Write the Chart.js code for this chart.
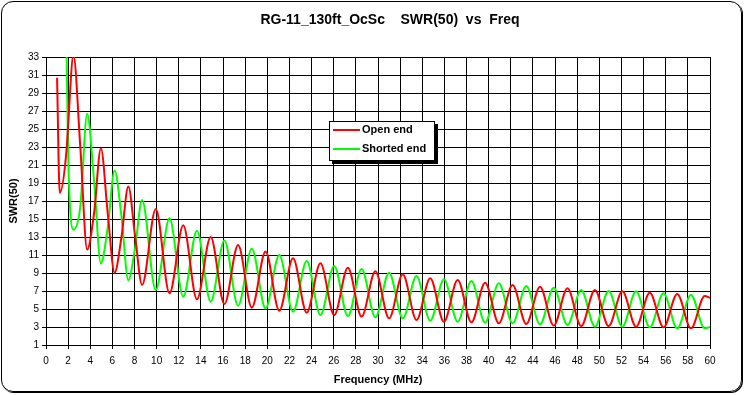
<!DOCTYPE html>
<html>
<head>
<meta charset="utf-8">
<script src="https://cdn.jsdelivr.net/npm/chart.js@4/dist/chart.umd.min.js"></script>
<style>
body { margin: 0; background: #fff; }
#wrap { position: relative; width: 745px; height: 395px; }
#frame { position: absolute; left: 1px; top: 1px; width: 739px; height: 389px; border: 1px solid #000; border-radius: 12px; box-shadow: 1px 1px 0 #000; }
canvas { position: absolute; left: 0; top: 0; }
</style>
</head>
<body>
<div id="wrap">
  <div id="frame"></div>
  <canvas id="swrChart" width="745" height="395"></canvas>
</div>
<script>
// frequency points (MHz): peaks / troughs, plus a few mid points on the sharp early cycles
var freq = [1.0, 1.24, 1.86, 2.0, 2.48, 3.10, 3.72, 4.34, 4.96, 5.58, 6.2, 6.82, 7.44, 8.06, 8.68,
  9.92, 11.16, 12.4, 13.64, 14.88, 16.12, 17.36, 18.6, 19.84, 21.08, 22.32, 23.56, 24.8, 26.04,
  27.28, 28.52, 29.76, 31.0, 32.24, 33.48, 34.72, 35.96, 37.2, 38.44, 39.68, 40.92, 42.16, 43.4,
  44.64, 45.88, 47.12, 48.36, 49.6, 50.84, 52.08, 53.32, 54.56, 55.8, 57.04, 58.28, 59.52, 60];

var openEnd = [30.7, 17.9, 22.7, 25.5, 33.2, 23.0, 11.6, 15.6, 22.85, 15.6, 9.04, 13.0, 18.6, 13.0, 7.67,
  16.1, 6.74, 14.3, 6.07, 13.0, 5.56, 12.1, 5.15, 11.4, 4.81, 10.63, 4.59, 10.07, 4.33,
  9.59, 4.15, 9.2, 3.96, 8.85, 3.78, 8.41, 3.59, 8.22, 3.52, 7.93, 3.41, 7.67, 3.33,
  7.48, 3.15, 7.3, 3.11, 7.11, 3.11, 6.96, 3.04, 6.81, 2.96, 6.67, 2.85, 6.44, 6.25];

var shortedEnd = [40, 50, 33.5, 22.3, 13.8, 16.4, 26.7, 19.3, 10.07, 14.1, 20.4, 15.3, 8.2, 11.9, 17.1,
  7.1, 15.07, 6.37, 13.7, 5.8, 12.6, 5.37, 11.7, 5.08, 11.0, 4.7, 10.33, 4.33, 9.78,
  4.22, 9.44, 4.07, 9.04, 3.96, 8.67, 3.7, 8.3, 3.59, 8.11, 3.48, 7.85, 3.41, 7.56,
  3.3, 7.37, 3.22, 7.11, 3.04, 7.0, 3.04, 6.96, 2.96, 6.74, 2.85, 6.56, 2.85, 3.0];

function pts(vals) {
  return freq.map(function (f, i) { return { x: f, y: vals[i] }; });
}

var titlePlugin = {
  id: 'topTitle',
  afterDraw: function (chart) {
    var c = chart.ctx;
    c.save();
    c.font = 'bold 14px "Liberation Sans", Arial, sans-serif';
    c.fillStyle = '#000';
    c.textAlign = 'center';
    c.textBaseline = 'middle';
    c.fillText('RG-11_130ft_OcSc    SWR(50)  vs  Freq', 390, 20);
    c.restore();
  }
};

var legendPlugin = {
  id: 'boxLegend',
  afterDraw: function (chart) {
    var c = chart.ctx;
    c.save();
    c.fillStyle = '#000';
    c.fillRect(332, 124, 106, 40);
    c.fillStyle = '#fff';
    c.fillRect(329, 121, 106, 40);
    c.strokeStyle = '#000';
    c.lineWidth = 1;
    c.strokeRect(329.5, 121.5, 105, 39);
    c.font = 'bold 11px "Liberation Sans", Arial, sans-serif';
    c.textBaseline = 'middle';
    chart.data.datasets.forEach(function (ds, i) {
      var y = 130 + i * 19;
      c.strokeStyle = ds.borderColor;
      c.lineWidth = 2;
      c.beginPath();
      c.moveTo(333, y);
      c.lineTo(360, y);
      c.stroke();
      c.fillStyle = '#000';
      c.fillText(ds.label, 362, y);
    });
    c.restore();
  }
};

var ctx = document.getElementById('swrChart').getContext('2d');
var swrChart = new Chart(ctx, {
  type: 'line',
  data: {
    datasets: [{
      label: 'Open end',
      data: pts(openEnd),
      borderColor: '#ff0000',
      borderWidth: 2,
      pointRadius: 0,
      cubicInterpolationMode: 'monotone'
    }, {
      label: 'Shorted end',
      data: pts(shortedEnd),
      borderColor: '#00ff00',
      borderWidth: 2,
      pointRadius: 0,
      cubicInterpolationMode: 'monotone'
    }]
  },
  options: {
    responsive: false,
    animation: false,
    layout: { padding: { top: 57, right: 35, left: 0, bottom: 0 } },
    plugins: {
      legend: { display: false },
      title: { display: false },
      tooltip: { enabled: false }
    },
    scales: {
      x: {
        type: 'linear',
        min: 0,
        max: 60,
        ticks: { stepSize: 2, color: '#000', padding: 6, maxRotation: 0, autoSkip: false,
          font: { family: '"Liberation Sans", Arial, sans-serif', size: 10 } },
        grid: { color: '#000', lineWidth: 1, tickLength: 4 },
        border: { color: '#000' },
        title: { display: true, text: 'Frequency (MHz)', color: '#000', padding: { top: 0, bottom: 8 },
          font: { family: '"Liberation Sans", Arial, sans-serif', size: 11, weight: 'bold' } },
        afterFit: function (scale) { scale.height = 50; }
      },
      y: {
        min: 1,
        max: 33,
        ticks: { stepSize: 2, color: '#000', padding: 3,
          font: { family: '"Liberation Sans", Arial, sans-serif', size: 10 } },
        grid: { color: '#000', lineWidth: 1, tickLength: 4 },
        border: { color: '#000' },
        title: { display: true, text: 'SWR(50)', color: '#000', padding: { top: 7, bottom: 0 },
          font: { family: '"Liberation Sans", Arial, sans-serif', size: 11, weight: 'bold' } },
        afterFit: function (scale) { scale.width = 46; }
      }
    }
  },
  plugins: [titlePlugin, legendPlugin]
});
</script>
</body>
</html>
